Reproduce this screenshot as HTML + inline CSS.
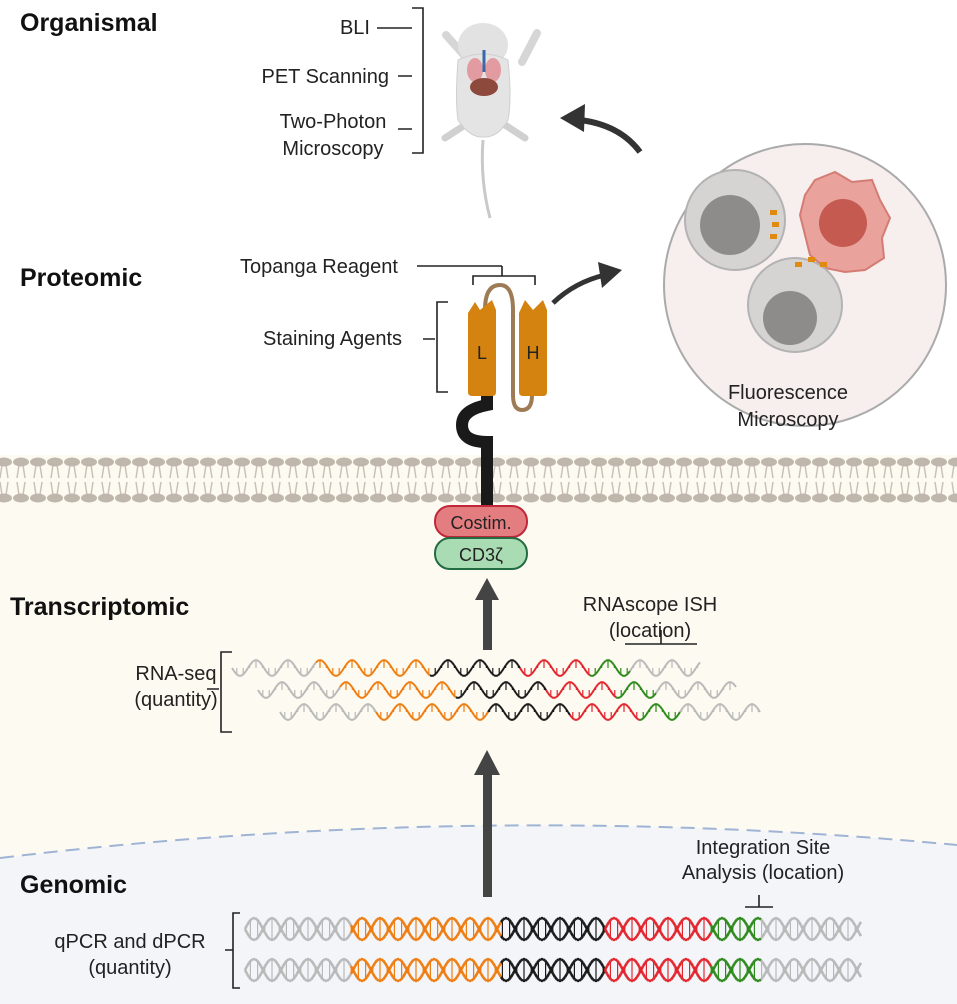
<!DOCTYPE html>
<html><head><meta charset="utf-8"><style>
html,body{margin:0;padding:0;background:#fff}
svg{display:block}
text{font-family:"Liberation Sans",sans-serif;fill:#222}
.h{font-weight:bold;font-size:25px;fill:#111}
.t{font-size:20px}
</style></head><body>
<svg id="s" width="957" height="1004" viewBox="0 0 957 1004" xmlns="http://www.w3.org/2000/svg">
<rect x="0" y="0" width="957" height="1004" fill="#fff"/>
<rect x="0" y="455" width="957" height="549" fill="#fdfbf1"/>
<path d="M0 858 Q480 800 957 845 L957 1004 L0 1004 Z" fill="#f3f5f9"/>
<path d="M0 858 Q480 800 957 845" fill="none" stroke="#9fb4d4" stroke-width="2" stroke-dasharray="14 8"/>
<g id="mem"></g>

<text class="h" x="20" y="31">Organismal</text>
<text class="h" x="20" y="286">Proteomic</text>
<text class="h" x="10" y="615">Transcriptomic</text>
<text class="h" x="20" y="893">Genomic</text>

<text class="t" x="370" y="34" text-anchor="end">BLI</text>
<text class="t" x="389" y="83" text-anchor="end">PET Scanning</text>
<text class="t" x="333" y="128" text-anchor="middle">Two-Photon</text>
<text class="t" x="333" y="155" text-anchor="middle">Microscopy</text>
<g stroke="#222" stroke-width="1.6" fill="none">
<path d="M412 8 H423 V153 H412"/>
<path d="M377 28 H412 M398 76 H412 M398 129 H412"/>
</g>
<!-- mouse -->
<g>
<path d="M483 140 Q480 180 490 218" stroke="#c9c9c9" stroke-width="3" fill="none"/>
<path d="M446 35 L470 62 M522 62 L537 33" stroke="#d6d6d6" stroke-width="8" stroke-linecap="round"/>
<path d="M465 125 L445 138 M505 125 L525 138" stroke="#d0d0d0" stroke-width="7" stroke-linecap="round"/>
<ellipse cx="483" cy="45" rx="25" ry="22" fill="#e2e2e2"/>
<path d="M458 60 Q455 100 458 120 Q470 138 483 137 Q498 138 508 120 Q512 100 508 60 Q483 48 458 60 Z" fill="#e4e4e4" stroke="#cfcfcf"/>
<ellipse cx="475" cy="70" rx="8" ry="12" fill="#e39ba2"/>
<ellipse cx="493" cy="70" rx="8" ry="12" fill="#e39ba2"/>
<path d="M484 50 V72" stroke="#3b67a8" stroke-width="3"/>
<ellipse cx="484" cy="87" rx="14" ry="9" fill="#8d4a3c"/>
</g>
<path d="M640 152 Q620 125 580 120" stroke="#333" stroke-width="6" fill="none"/>
<path d="M560 118 L585 104 L584 132 Z" fill="#333"/>

<circle cx="805" cy="285" r="141" fill="#f7eeee" stroke="#aaa" stroke-width="2"/>
<circle cx="735" cy="220" r="50" fill="#d6d3d3" stroke="#b3b3b3" stroke-width="2"/>
<circle cx="730" cy="225" r="30" fill="#8e8b8b"/>
<path d="M815 180 L835 172 L852 182 L872 180 L880 200 L890 218 L882 238 L884 258 L865 270 L845 272 L825 268 L810 255 L805 235 L800 215 L805 195 Z" fill="#e9a39c" stroke="#d47c74" stroke-width="2"/>
<circle cx="843" cy="223" r="24" fill="#c45a50"/>
<circle cx="795" cy="305" r="47" fill="#d6d3d3" stroke="#b3b3b3" stroke-width="2"/>
<circle cx="790" cy="318" r="27" fill="#8e8b8b"/>
<g fill="#e08a10"><rect x="770" y="210" width="7" height="5"/><rect x="772" y="222" width="7" height="5"/><rect x="770" y="234" width="7" height="5"/><rect x="795" y="262" width="7" height="5"/><rect x="808" y="257" width="7" height="5"/><rect x="820" y="262" width="7" height="5"/></g>
<text class="t" x="788" y="399" text-anchor="middle">Fluorescence</text>
<text class="t" x="788" y="426" text-anchor="middle">Microscopy</text>

<path d="M553 303 Q575 282 605 275" stroke="#333" stroke-width="5" fill="none"/>
<path d="M622 270 L598 262 L602 288 Z" fill="#333"/>

<text class="t" x="240" y="273">Topanga Reagent</text>
<path d="M417 266 H502 M502 266 V276 M473 285 V276 H535 V285" stroke="#222" stroke-width="1.6" fill="none"/>
<text class="t" x="263" y="345">Staining Agents</text>
<path d="M423 339 H435 M448 302 H437 V392 H448" stroke="#222" stroke-width="1.6" fill="none"/>

<path d="M487 392 V405 Q462 410 462 425 Q462 442 487 442 V507" stroke="#1a1a1a" stroke-width="12" fill="none"/>
<path d="M485 310 Q485 285 500 285 Q513 285 513 310 V395 Q513 410 522 410 Q532 410 532 395" stroke="#9c7b55" stroke-width="4" fill="none"/>
<path d="M468 313 L475 302 L480 310 L492 300 L496 310 V392 Q496 396 492 396 H472 Q468 396 468 392 Z" fill="#d48310"/>
<path d="M519 313 L525 300 L533 310 L543 300 L547 310 V392 Q547 396 543 396 H523 Q519 396 519 392 Z" fill="#d48310"/>
<text x="482" y="359" text-anchor="middle" style="font-size:18px">L</text>
<text x="533" y="359" text-anchor="middle" style="font-size:18px">H</text>
<rect x="435" y="506" width="92" height="31" rx="15" fill="#e37d80" stroke="#c0283a" stroke-width="2"/>
<text x="481" y="529" text-anchor="middle" style="font-size:18px">Costim.</text>
<rect x="435" y="538" width="92" height="31" rx="15" fill="#a9dcb2" stroke="#236b43" stroke-width="2"/>
<text x="481" y="561" text-anchor="middle" style="font-size:18px">CD3ζ</text>

<rect x="483" y="598" width="9" height="52" fill="#444"/>
<path d="M475 600 L487 578 L499 600 Z" fill="#444"/>
<rect x="483" y="772" width="9" height="125" fill="#444"/>
<path d="M474 775 L487 750 L500 775 Z" fill="#444"/>

<text class="t" x="650" y="611" text-anchor="middle">RNAscope ISH</text>
<text class="t" x="650" y="637" text-anchor="middle">(location)</text>
<path d="M625 644 H697 M661 630 V644" stroke="#222" stroke-width="1.6" fill="none"/>
<text class="t" x="176" y="680" text-anchor="middle">RNA-seq</text>
<text class="t" x="176" y="706" text-anchor="middle">(quantity)</text>
<path d="M207 689 H219 M232 652 H221 V732 H232" stroke="#222" stroke-width="1.6" fill="none"/>

<text class="t" x="763" y="854" text-anchor="middle">Integration Site</text>
<text class="t" x="763" y="879" text-anchor="middle">Analysis (location)</text>
<path d="M745 907 H773 M759 895 V907" stroke="#222" stroke-width="1.6" fill="none"/>
<text class="t" x="130" y="948" text-anchor="middle">qPCR and dPCR</text>
<text class="t" x="130" y="974" text-anchor="middle">(quantity)</text>
<path d="M225 950 H233 M240 913 H233 V988 H240" stroke="#222" stroke-width="1.6" fill="none"/>

<g id="dna"></g>
</svg>
<script>
var NS="http://www.w3.org/2000/svg";
function el(p,t,a){var e=document.createElementNS(NS,t);for(var k in a)e.setAttribute(k,a[k]);p.appendChild(e);return e;}
var mem=document.getElementById("mem");
for(var x=4;x<957;x+=17){
 el(mem,"path",{d:"M"+(x-2)+" 465 L"+(x-4)+" 478 M"+(x+2)+" 465 L"+(x+4)+" 478 M"+(x-4)+" 482 L"+(x-2)+" 495 M"+(x+4)+" 482 L"+(x+2)+" 495",stroke:"#c9c2b8","stroke-width":1.5,fill:"none"});
 el(mem,"ellipse",{cx:x,cy:462,rx:8,ry:4.5,fill:"#bfb7ac"});
 el(mem,"ellipse",{cx:x,cy:498,rx:8,ry:4.5,fill:"#bfb7ac"});
}
var dna=document.getElementById("dna");
function col(x,segs){for(var i=0;i<segs.length;i++)if(x<segs[i][0])return segs[i][1];return segs[segs.length-1][1];}
function helix(x0,x1,yc,amp,per,segs,dbl,w){
 var step=2;
 for(var x=x0;x<x1;x+=step){
  var c=col(x,segs);
  var a1=Math.sin((x-x0)/per*2*Math.PI),a2=Math.sin((x+step-x0)/per*2*Math.PI);
  el(dna,"line",{x1:x,y1:yc+amp*a1,x2:x+step,y2:yc+amp*a2,stroke:c,"stroke-width":w});
  if(dbl)el(dna,"line",{x1:x,y1:yc-amp*a1,x2:x+step,y2:yc-amp*a2,stroke:c,"stroke-width":w});
 }
 for(var x=x0+per*0.15;x<x1;x+=per/5){
  var c=col(x,segs),a=Math.sin((x-x0)/per*2*Math.PI);
  if(Math.abs(a)<0.3)continue;
  el(dna,"line",{x1:x,y1:yc+amp*a,x2:x,y2:dbl?yc-amp*a:yc,stroke:c,"stroke-width":1.2});
 }
}
var G="#b9b9b9",O="#ee7d12",B="#1a1a1a",R="#e3262e",Gr="#2f8a1d";
var gs=[[350,G],[500,O],[605,B],[710,R],[760,Gr],[999,G]];
helix(245,860,929,11,36,gs,true,2.6);
helix(245,860,970,11,36,gs,true,2.6);
helix(232,700,668,8,32,[[315,G],[430,O],[520,B],[590,R],[630,Gr],[999,G]],false,2);
helix(258,735,690,8,32,[[340,G],[455,O],[545,B],[615,R],[655,Gr],[999,G]],false,2);
helix(280,760,712,8,32,[[375,G],[488,O],[570,B],[640,R],[680,Gr],[999,G]],false,2);
</script>
</body></html>
